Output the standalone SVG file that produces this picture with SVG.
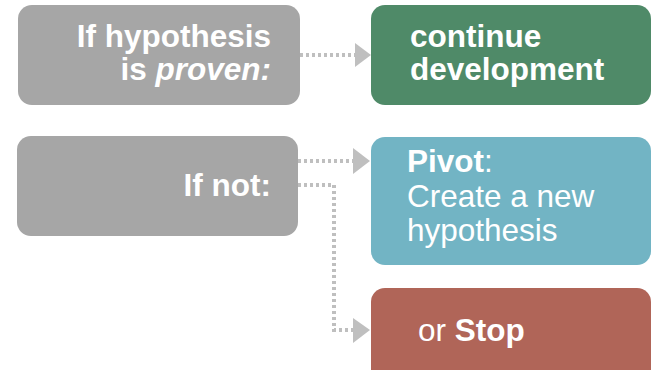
<svg xmlns="http://www.w3.org/2000/svg" width="658" height="370" viewBox="0 0 658 370">
<style>
text{font-family:"Liberation Sans",Arial,sans-serif;font-size:31.5px;fill:#fff}
.b{font-weight:bold}
.c{fill:none;stroke:#bfbfbf;stroke-width:4;stroke-dasharray:3 3}
.h{fill:#bfbfbf}
</style>
<rect width="658" height="370" fill="#fff"/>
<g id="proven">
<rect x="18" y="5" width="282" height="100" rx="14" fill="#a6a6a6"/>
<text class="b" x="271" y="47" text-anchor="end">If hypothesis</text>
<text class="b" x="271" y="80" text-anchor="end">is <tspan font-style="italic">proven:</tspan></text>
</g>
<g id="continue">
<rect x="371" y="5" width="280" height="100" rx="14" fill="#4f8a68"/>
<text class="b" x="410" y="47">continue</text>
<text class="b" x="410" y="80">development</text>
</g>
<g id="ifnot">
<rect x="17" y="136" width="281" height="100" rx="14" fill="#a6a6a6"/>
<text class="b" x="271" y="196" text-anchor="end">If not:</text>
</g>
<g id="pivot">
<rect x="371" y="137" width="280" height="128" rx="14" fill="#72b4c4"/>
<text x="407" y="172"><tspan class="b">Pivot</tspan>:</text>
<text x="407" y="207">Create a new</text>
<text x="407" y="241">hypothesis</text>
</g>
<g id="stop">
<rect x="371" y="288" width="280" height="95" rx="14" fill="#b06558"/>
<text x="418" y="341">or <tspan class="b">Stop</tspan></text>
</g>
<g id="connectors">
<path class="c" d="M300 55H355"/>
<polygon class="h" points="355,43 371,55 355,67"/>
<path class="c" d="M298 161H353"/>
<polygon class="h" points="353,148 370,161 353,174"/>
<path class="c" d="M298 185H334V330H353"/>
<polygon class="h" points="353,318 370,330 353,343"/>
</g>
</svg>
